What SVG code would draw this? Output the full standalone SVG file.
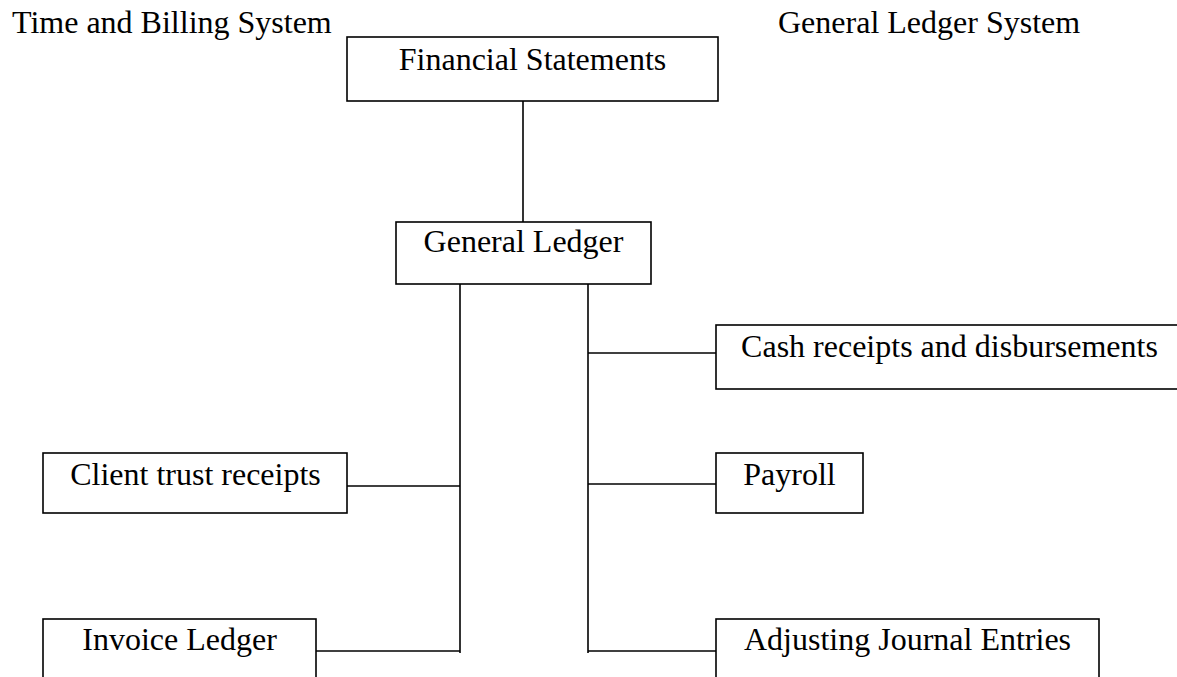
<svg xmlns="http://www.w3.org/2000/svg" width="1177" height="677" viewBox="0 0 1177 677">
<style>
.box{fill:#fff;stroke:#000;stroke-width:1.6}
.t{font-family:"Liberation Serif","Times New Roman",serif;font-size:32px;fill:#000}
.c{text-anchor:middle}
.ln{stroke:#000;stroke-width:1.6;fill:none}
</style>
<rect width="1177" height="677" fill="#fff"/>
<text class="t" x="12" y="33">Time and Billing System</text>
<text class="t" x="778" y="33">General Ledger System</text>
<g id="connectors">
<line class="ln" x1="523" y1="101" x2="523" y2="222"/>
<line class="ln" x1="460" y1="284" x2="460" y2="653"/>
<line class="ln" x1="588" y1="284" x2="588" y2="653"/>
<line class="ln" x1="588" y1="353" x2="716" y2="353"/>
<line class="ln" x1="588" y1="484" x2="716" y2="484"/>
<line class="ln" x1="588" y1="651" x2="716" y2="651"/>
<line class="ln" x1="347" y1="486" x2="460" y2="486"/>
<line class="ln" x1="316" y1="651" x2="460" y2="651"/>
</g>
<g id="financial-statements">
<rect class="box" x="347" y="37" width="371" height="64"/>
<text class="t c" x="532.5" y="70">Financial Statements</text>
</g>
<g id="general-ledger">
<rect class="box" x="396" y="222" width="255" height="62"/>
<text class="t c" x="523.5" y="252">General Ledger</text>
</g>
<g id="cash-receipts">
<rect class="box" x="716" y="325" width="467" height="64"/>
<text class="t c" x="949.5" y="357">Cash receipts and disbursements</text>
</g>
<g id="client-trust">
<rect class="box" x="43" y="453" width="304" height="60"/>
<text class="t c" x="195.5" y="485">Client trust receipts</text>
</g>
<g id="payroll">
<rect class="box" x="716" y="453" width="147" height="60"/>
<text class="t c" x="789.5" y="485">Payroll</text>
</g>
<g id="invoice-ledger">
<rect class="box" x="43" y="619" width="273" height="70"/>
<text class="t c" x="179.5" y="650">Invoice Ledger</text>
</g>
<g id="adjusting-entries">
<rect class="box" x="716" y="619" width="383" height="70"/>
<text class="t c" x="907.5" y="650">Adjusting Journal Entries</text>
</g>
</svg>
